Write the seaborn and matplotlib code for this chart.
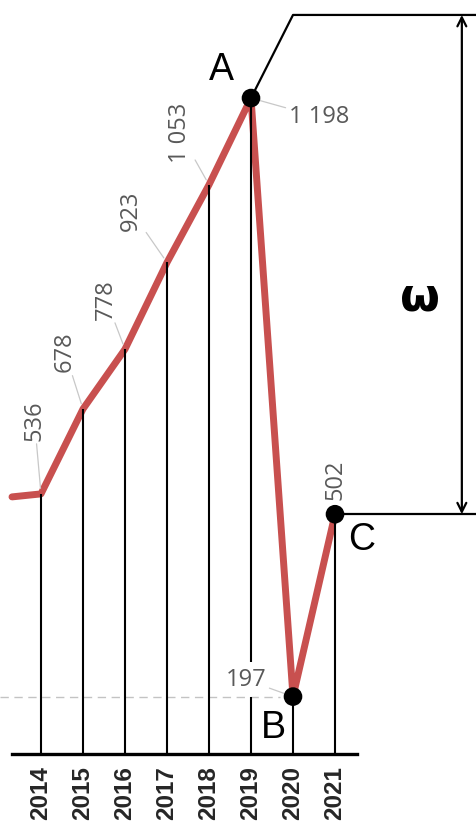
import matplotlib.pyplot as plt
import pandas as pd
import seaborn as sns

# Values
years = [2014, 2015, 2016, 2017, 2018, 2019, 2020, 2021]
values = [536, 678, 778, 923, 1053, 1198, 197, 502]
value_labels = ["536", "678", "778", "923", "1 053", "1 198", "197", "502"]

# the red line comes in from the left edge (end of the year before)
lead_in_year = 2013.31
lead_in_value = 531

point_names = {2019: "A", 2020: "B", 2021: "C"}

base_value = 101   # level of the black base line
top_value = 1337   # level of the upper bracket line
gap_top = 255      # 2019 stem stops here to leave room for the "197" label

# label offsets in points (dx, dy), rotation, leader line
label_offsets = [(-4.7, 53), (-13, 41), (-13.7, 36), (-26, 37.5),
                 (-21, 37.5), (49, -13.7), (-34, 12.2), (0, 24.5)]
label_rot = [90, 90, 90, 90, 90, 0, 0, 90]
label_leader = [True, True, True, True, True, True, True, False]
letter_offsets = {"A": (-21, 20), "B": (-14.4, -22.3), "C": (19.4, -18.7)}

red = "#c8504f"
x_left, x_right = 2013.024, 2024.357

sns.set_theme(style="white")
plt.rcParams["font.family"] = ["Liberation Sans", "DejaVu Sans"]

fig = plt.figure(figsize=(4.76, 8.23), dpi=100)
ax = fig.add_axes([0, 69 / 823, 1, 754 / 823])
ax.set_xlim(x_left, x_right)
ax.set_ylim(base_value, 1362)

df = pd.DataFrame({"year": [lead_in_year] + years,
                   "value": [lead_in_value] + values})
sns.lineplot(data=df, x="year", y="value", color=red, lw=5, ax=ax, zorder=2)

# dashed level line at B
ax.hlines(values[6], x_left, years[6] - 0.31, colors="#c3c3c3",
          linestyles=(0, (6, 4)), lw=1.0, zorder=1)

# vertical stems
for yr, v in zip(years, values):
    if yr == 2019:
        ax.vlines(yr, base_value, values[6], colors="black", lw=1.5, zorder=3)
        ax.vlines(yr, gap_top, v, colors="black", lw=1.5, zorder=3)
    else:
        ax.vlines(yr, base_value, v, colors="black", lw=1.5, zorder=3)

# named points
named = pd.DataFrame({"year": list(point_names),
                      "value": [values[years.index(y)] for y in point_names]})
sns.scatterplot(data=named, x="year", y="value", color="black", s=180,
                edgecolor="none", ax=ax, zorder=5)
for yr, name in point_names.items():
    ax.annotate(name, (yr, values[years.index(yr)]), xytext=letter_offsets[name],
                textcoords="offset points", ha="center", va="center",
                fontsize=27, color="black")

# value labels with grey leaders
for yr, v, lab, off, rot, lead in zip(years, values, value_labels,
                                      label_offsets, label_rot, label_leader):
    props = dict(arrowstyle="-", color="#c8c8c8", lw=0.9, shrinkA=0,
                 shrinkB=4) if lead else None
    ax.annotate(lab, (yr, v), xytext=off, textcoords="offset points",
                ha="center", va="center", rotation=rot, fontsize=17,
                color="#595959", family=["Open Sans", "DejaVu Sans"],
                arrowprops=props)

# bracket and arrow on the right
a_val = values[years.index(2019)]
c_val = values[years.index(2021)]
ax.plot([2019, 2020, x_right], [a_val, top_value, top_value],
        color="black", lw=1.6, zorder=3)
ax.plot([2021, x_right], [c_val, c_val], color="black", lw=1.6, zorder=3)
ax.annotate("", xy=(2024.02, top_value), xytext=(2024.02, c_val),
            arrowprops=dict(arrowstyle="<->", lw=1.6, color="black",
                            shrinkA=0, shrinkB=0, mutation_scale=16))
ax.text(2023.02, 864, "ω", ha="center", va="center", fontsize=33,
        fontweight="bold", family="DejaVu Sans", color="black")

# axis: only the base line and year labels
for side in ["top", "left", "right"]:
    ax.spines[side].set_visible(False)
ax.spines["bottom"].set_color("black")
ax.spines["bottom"].set_linewidth(2.4)
ax.spines["bottom"].set_bounds(2013.31, 2021.52)
ax.set_xticks(years)
ax.set_xticklabels([str(y) for y in years], rotation=90, fontsize=17.5,
                   fontweight="bold", color="#262626")
ax.tick_params(axis="x", length=0, pad=9)
ax.set_yticks([])
ax.set_xlabel("")
ax.set_ylabel("")

fig.savefig("out.png", dpi=100)
